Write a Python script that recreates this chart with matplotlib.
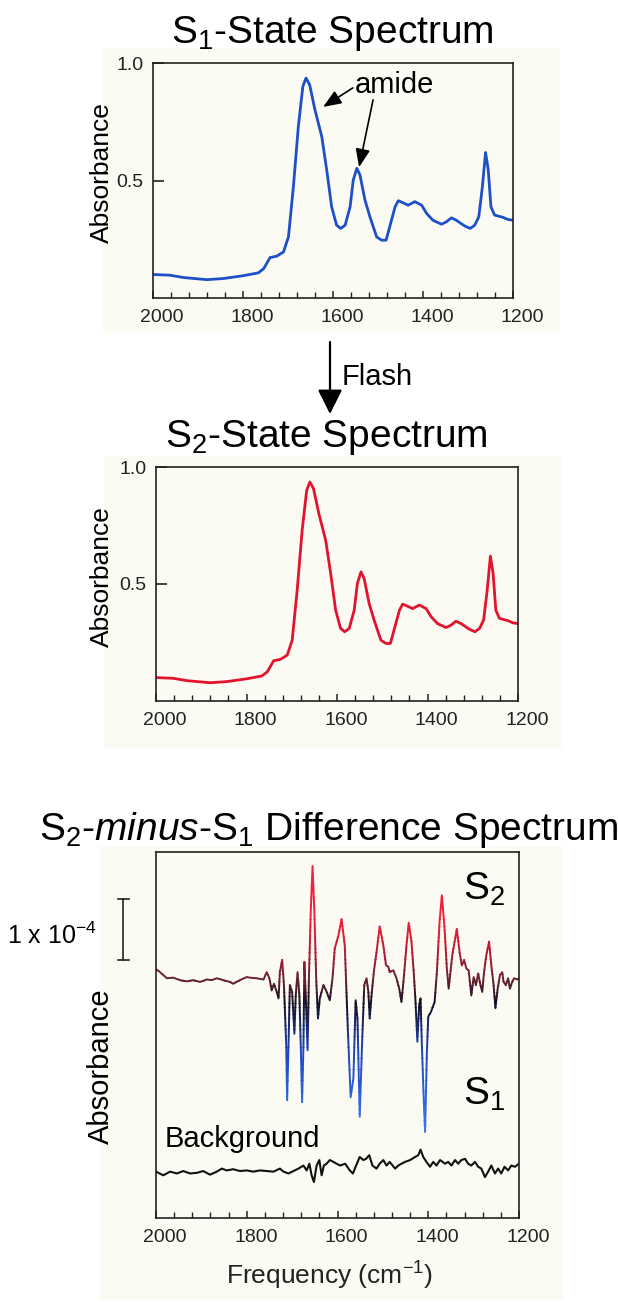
import numpy as np
import matplotlib
matplotlib.use('Agg')
import matplotlib.pyplot as plt
from matplotlib.colors import LinearSegmentedColormap, Normalize
from matplotlib.patches import Rectangle, FancyArrowPatch
from matplotlib.ticker import MultipleLocator
from matplotlib.transforms import ScaledTranslation, blended_transform_factory

plt.rcParams['font.family'] = ['Liberation Sans', 'DejaVu Sans']
plt.rcParams['mathtext.fontset'] = 'custom'
plt.rcParams['mathtext.rm'] = 'Liberation Sans'
plt.rcParams['mathtext.it'] = 'Liberation Sans:italic'
plt.rcParams['mathtext.default'] = 'rm'

# --- data ---
# absorbance spectra, frequency in cm-1
spec_freq = [2000, 1962, 1932, 1880, 1843, 1799, 1766, 1754, 1740, 1725,
             1710, 1699, 1688, 1677, 1667, 1660, 1652, 1640, 1625, 1614,
             1603, 1592, 1583, 1573, 1562, 1555, 1547, 1540, 1529, 1518,
             1503, 1492, 1482, 1474, 1462, 1455, 1444, 1433, 1418, 1403,
             1392, 1378, 1359, 1348, 1337, 1326, 1307, 1295, 1285, 1276,
             1268, 1261, 1255, 1249, 1241, 1222, 1211, 1200]
s1_abs = [0.100, 0.097, 0.087, 0.078, 0.083, 0.095, 0.107, 0.125, 0.172, 0.178,
          0.196, 0.26, 0.474, 0.73, 0.90, 0.936, 0.908, 0.80, 0.687, 0.545,
          0.388, 0.31, 0.296, 0.31, 0.388, 0.502, 0.552, 0.523, 0.417, 0.346,
          0.26, 0.246, 0.246, 0.303, 0.388, 0.414, 0.405, 0.395, 0.41, 0.395,
          0.36, 0.331, 0.314, 0.324, 0.341, 0.331, 0.306, 0.296, 0.31, 0.346,
          0.474, 0.619, 0.545, 0.388, 0.353, 0.343, 0.334, 0.331]
s2_abs = list(s1_abs)  # S2 spectrum is indistinguishable at this scale

# S2-minus-S1 difference, in units of 1e-4 absorbance
diff_freq = [2000, 1991, 1976, 1962, 1947, 1932, 1918, 1903, 1888, 1877,
             1866, 1852, 1837, 1830, 1815, 1800, 1793, 1778, 1763, 1756,
             1750, 1745, 1740, 1734, 1730, 1727, 1722, 1718, 1713, 1711,
             1708, 1705, 1700, 1695, 1692, 1688, 1684, 1681, 1678, 1675,
             1673, 1670, 1666, 1663, 1659, 1655, 1651, 1647, 1643, 1639,
             1631, 1624, 1617, 1611, 1606, 1598, 1591, 1584, 1577, 1571,
             1565, 1560, 1556, 1551, 1546, 1541, 1536, 1532, 1529, 1525,
             1520, 1514, 1507, 1499, 1493, 1488, 1485, 1477, 1470, 1464,
             1459, 1454, 1448, 1443, 1437, 1432, 1428, 1424, 1420, 1417,
             1414, 1410, 1407, 1403, 1400, 1394, 1386, 1381, 1375, 1370,
             1364, 1359, 1355, 1351, 1347, 1342, 1337, 1331, 1326, 1321,
             1316, 1311, 1305, 1300, 1295, 1290, 1285, 1281, 1277, 1272,
             1266, 1261, 1256, 1252, 1247, 1242, 1237, 1234, 1229, 1224,
             1220, 1215, 1211, 1203, 1200]
diff_abs = [0.15, 0.10, 0.00, 0.01, -0.03, -0.05, -0.03, -0.06, -0.02, -0.03,
            0.00, -0.03, -0.06, -0.09, -0.03, 0.02, 0.01, 0.00, -0.02, 0.10,
            0.00, -0.20, -0.09, -0.22, -0.33, 0.10, 0.30, -0.11, -1.10, -2.00,
            -1.10, -0.11, -0.22, -0.91, -0.28, 0.10, -0.28, -1.10, -2.03, -1.10,
            0.27, -0.28, -1.18, 0.00, 1.09, 1.84, 1.09, 0.00, -0.66, -0.33,
            -0.11, -0.22, -0.36, 0.00, 0.49, 0.70, 0.97, 0.54, -0.88, -1.95,
            -1.64, -0.36, -0.66, -2.27, -1.10, -0.11, 0.00, -0.22, -0.66, -0.28,
            0.10, 0.43, 0.85, 0.54, 0.21, 0.19, 0.10, 0.13, 0.00, -0.17,
            -0.39, 0.00, 0.54, 0.91, 0.60, 0.10, -0.39, -1.04, -0.44, -0.33,
            -1.10, -1.97, -2.52, -1.21, -0.63, -0.55, -0.39, 0.10, 0.93, 1.36,
            0.81, 0.16, -0.17, 0.10, 0.38, 0.60, 0.81, 0.43, 0.21, 0.30,
            0.16, 0.13, -0.28, 0.02, -0.11, 0.08, -0.11, -0.22, 0.10, 0.38,
            0.60, 0.21, -0.11, -0.49, -0.17, 0.05, 0.10, -0.06, -0.11, 0.00,
            -0.17, -0.06, 0.00, -0.02, 0.00]

# background (dark-minus-dark) trace, same units
bg_freq = [2000, 1984, 1969, 1954, 1940, 1925, 1910, 1896, 1881, 1866,
           1855, 1844, 1830, 1815, 1800, 1786, 1771, 1756, 1741, 1727,
           1719, 1708, 1697, 1686, 1675, 1668, 1662, 1657, 1652, 1646,
           1640, 1635, 1630, 1624, 1617, 1609, 1602, 1594, 1583, 1573,
           1566, 1559, 1551, 1543, 1537, 1530, 1523, 1514, 1507, 1499,
           1492, 1485, 1473, 1466, 1459, 1451, 1440, 1429, 1422, 1417,
           1411, 1404, 1396, 1389, 1382, 1374, 1363, 1356, 1349, 1341,
           1334, 1327, 1319, 1312, 1305, 1297, 1290, 1283, 1275, 1268,
           1261, 1253, 1246, 1239, 1232, 1224, 1217, 1209, 1200]
bg_abs = [-3.17, -3.23, -3.17, -3.20, -3.16, -3.20, -3.19, -3.16, -3.22, -3.17,
          -3.12, -3.15, -3.13, -3.16, -3.15, -3.17, -3.15, -3.16, -3.17, -3.12,
          -3.17, -3.20, -3.16, -3.12, -3.07, -3.15, -3.04, -3.23, -3.34, -3.07,
          -2.98, -3.23, -3.07, -3.04, -2.98, -3.01, -3.04, -3.07, -3.04, -3.15,
          -3.20, -3.07, -2.93, -2.98, -2.96, -2.90, -3.07, -3.12, -3.04, -2.98,
          -3.07, -3.01, -3.12, -3.07, -3.04, -3.01, -2.98, -2.93, -2.90, -2.81,
          -2.93, -3.01, -3.09, -3.01, -3.07, -2.98, -3.04, -3.01, -3.07, -2.98,
          -3.04, -2.98, -2.96, -3.04, -3.07, -3.01, -3.09, -3.12, -3.26, -3.17,
          -3.07, -3.20, -3.12, -3.20, -3.09, -3.15, -3.07, -3.09, -3.04]

xtick_vals = [2000, 1800, 1600, 1400, 1200]
ytick_vals = [0.5, 1.0]
ytick_labels = ['0.5', '1.0']

W, H = 618, 1302
fig = plt.figure(figsize=(W / 100, H / 100), dpi=100)
fig.patch.set_facecolor('white')
cream = '#fbfbf4'
ink = '#222222'


def box(l, t, r, b):
    # pixel box (from top-left) -> figure fraction rect
    return [l / W, 1 - b / H, (r - l) / W, (b - t) / H]


# cream backdrops behind each panel
for l, t, r, b in [(103, 48, 560, 333), (104, 456, 562, 748), (100, 846, 563, 1300)]:
    x0, y0, w, h = box(l, t, r, b)
    fig.patches.append(Rectangle((x0, y0), w, h, transform=fig.transFigure,
                                 facecolor=cream, edgecolor='none', zorder=-5))


def style(ax, show_y=True):
    ax.set_facecolor(cream)
    ax.set_xlim(2000, 1200)
    ax.set_xticks(xtick_vals)
    ax.xaxis.set_minor_locator(MultipleLocator(40))
    ax.tick_params(axis='x', which='both', direction='in', top=False,
                   labelsize=14, labelcolor=ink, pad=8, color=ink)
    ax.tick_params(axis='x', which='major', length=5, width=1.1)
    ax.tick_params(axis='x', which='minor', length=4, width=1.0)
    if show_y:
        ax.set_ylim(0, 1.0)
        ax.set_yticks(ytick_vals)
        ax.set_yticklabels(ytick_labels)
        ax.tick_params(axis='y', direction='in', right=False, length=8,
                       width=1.2, labelsize=14, labelcolor=ink, pad=7, color=ink)
    else:
        ax.set_yticks([])
    for s in ax.spines.values():
        s.set_linewidth(1.2)
        s.set_color(ink)
    # tick labels in the original sit a little right of their ticks
    shift = ScaledTranslation(9 / 100, 0, fig.dpi_scale_trans)
    for lbl in ax.get_xticklabels():
        lbl.set_transform(lbl.get_transform() + shift)


# --- S1 state ---
ax1 = fig.add_axes(box(153, 63, 513, 298))
ax1.plot(spec_freq, s1_abs, color='#1d4fc6', lw=2.0, solid_joinstyle='round')
style(ax1)
ax1.text(1551, 0.872, 'amide', fontsize=21, ha='left', va='baseline')
arr = dict(arrowstyle='-|>,head_length=0.55,head_width=0.22', color='k', lw=1.2,
           shrinkA=0, shrinkB=0, mutation_scale=20)
ax1.annotate('', xy=(1622, 0.813), xytext=(1556, 0.894), arrowprops=arr)
ax1.annotate('', xy=(1542, 0.557), xytext=(1511, 0.843), arrowprops=arr)

fig.text(332 / W, 1 - 43 / H, 'S$_1$-State Spectrum', fontsize=28,
         ha='center', va='baseline')
fig.text(102 / W, 1 - 173 / H, 'Absorbance', fontsize=19, rotation=90,
         ha='center', va='center')

# --- flash arrow ---
fig.add_artist(FancyArrowPatch((330 / W, 1 - 342 / H), (330 / W, 1 - 414 / H),
                               transform=fig.transFigure,
                               arrowstyle='-|>,head_length=0.6,head_width=0.3',
                               mutation_scale=25, lw=1.6, color='k',
                               shrinkA=0, shrinkB=0))
fig.text(342 / W, 1 - 385 / H, 'Flash', fontsize=21, ha='left', va='baseline')

# --- S2 state ---
ax2 = fig.add_axes(box(156, 467, 518, 701))
ax2.plot(spec_freq, s2_abs, color='#e3132d', lw=2.0, solid_joinstyle='round')
style(ax2)
fig.text(326 / W, 1 - 447 / H, 'S$_2$-State Spectrum', fontsize=28,
         ha='center', va='baseline')
fig.text(102 / W, 1 - 577 / H, 'Absorbance', fontsize=19, rotation=90,
         ha='center', va='center')

# --- difference spectrum ---
ax3 = fig.add_axes(box(156, 852, 519, 1218))
style(ax3, show_y=False)
ax3.set_ylim(-3.93, 2.07)

# red above the baseline, near-black around it, blue below: colour by height
cmap = LinearSegmentedColormap.from_list('s2s1', [
    (0.0, '#3a78f0'), (0.295, '#1e46bb'), (0.477, '#161022'),
    (0.568, '#6a2232'), (0.682, '#c01a32'), (0.77, '#ee1e3a'), (1.0, '#f4203e')])
norm = Normalize(-2.5, 1.9)
step = 0.06
for lo in np.arange(-2.7, 2.0, step):
    ln, = ax3.plot(diff_freq, diff_abs, color=cmap(norm(lo + step / 2)), lw=1.4,
                   solid_joinstyle='round')
    ln.set_clip_path(Rectangle((1200, lo), 800, step * 1.15, transform=ax3.transData))

ax3.plot(bg_freq, bg_abs, color='#111111', lw=1.5)

ax3.text(1323, 1.28, 'S$_2$', fontsize=28, ha='left', va='baseline')
ax3.text(1323, -2.08, 'S$_1$', fontsize=28, ha='left', va='baseline')
ax3.text(1980, -2.77, 'Background', fontsize=21, ha='left', va='baseline')

# 1e-4 scale bar just left of the frame
bt = blended_transform_factory(ax3.transAxes, ax3.transData)
bar_x = (123 - 156) / 363
cap = 5.5 / 363
ax3.plot([bar_x, bar_x], [0.30, 1.30], color=ink, lw=1.2, transform=bt, clip_on=False)
for yv in (0.30, 1.30):
    ax3.plot([bar_x - cap, bar_x + cap], [yv, yv], color=ink, lw=1.2,
             transform=bt, clip_on=False)
ax3.text((97 - 156) / 363, 0.70, '1 x 10$^{-4}$', fontsize=18, ha='right',
         va='center', transform=bt)

fig.text(329 / W, 1 - 840 / H, 'S$_2$-$\\mathit{minus}$-S$_1$ Difference Spectrum',
         fontsize=28, ha='center', va='baseline')
fig.text(101 / W, 1 - 1066 / H, 'Absorbance', fontsize=21, rotation=90,
         ha='center', va='center')
fig.text(330 / W, 1 - 1285 / H, 'Frequency (cm$^{-1}$)', fontsize=19,
         ha='center', va='baseline', color=ink)

fig.savefig('out.png', dpi=100)
